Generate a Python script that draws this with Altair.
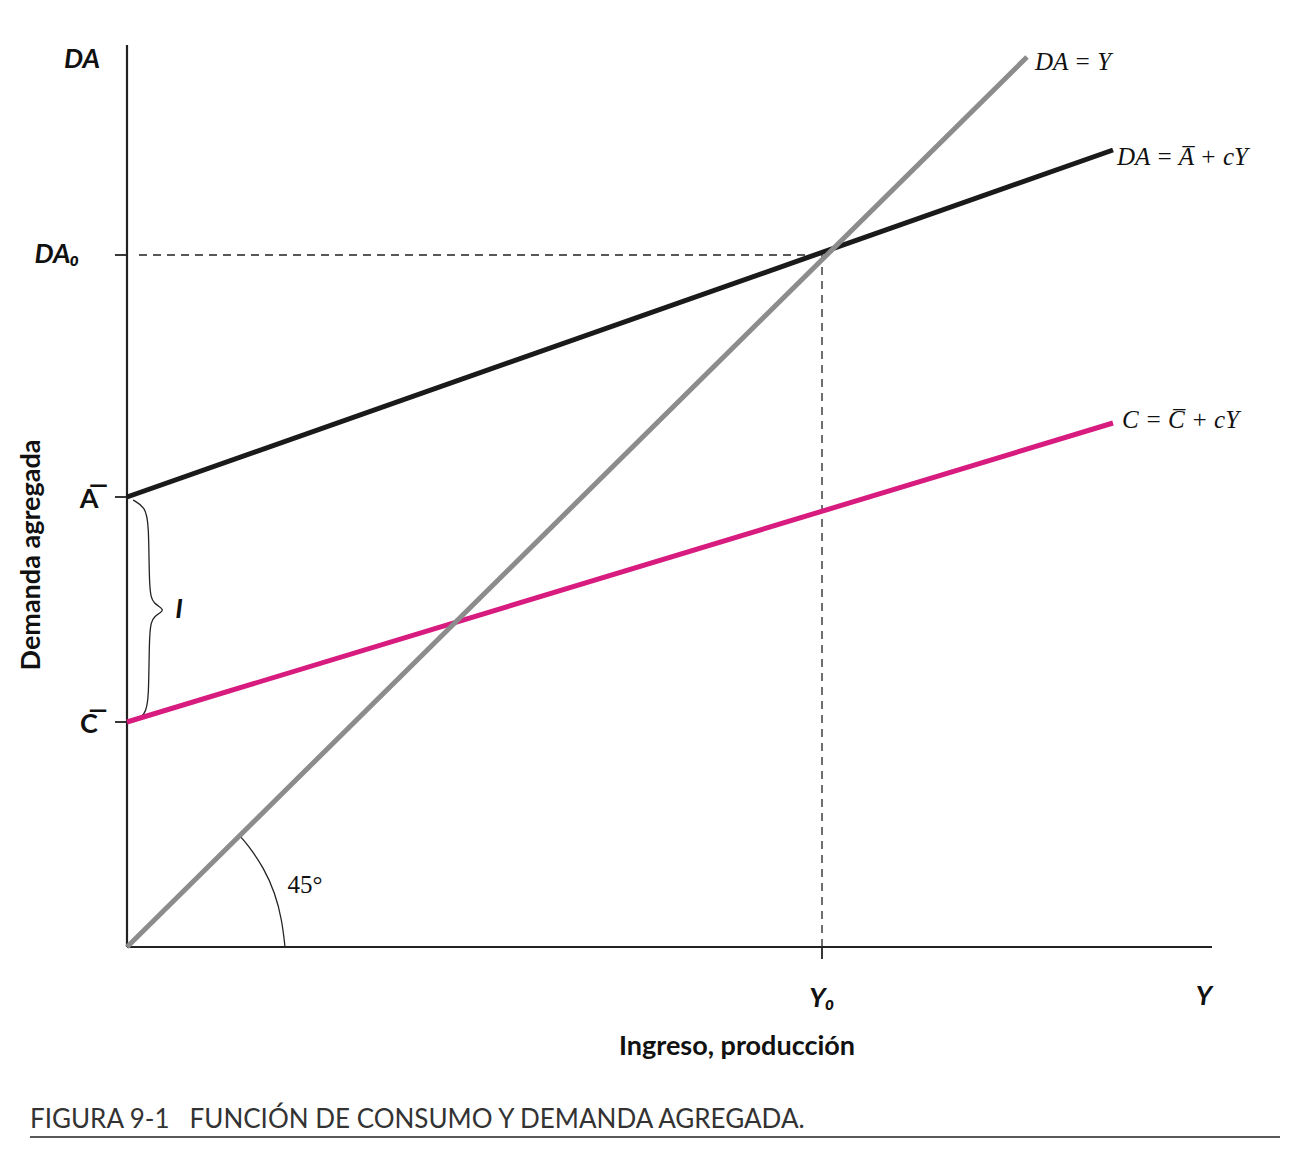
import altair as alt
import pandas as pd

# data units ~ pixels of the original figure, origin at the axes corner
line45_x = [0, 900]
line45_y = [0, 890]
da_x = [0, 986]
da_y = [450, 797]
c_x = [0, 986]
c_y = [225, 524]
y0 = 695
da0 = 692
a_bar = 450
c_bar = 225

brace_x = [6, 18, 22, 22, 26, 40, 26, 22, 22, 18, 6]
brace_y = [447, 440, 425, 355, 343, 337, 331, 319, 245, 232, 225]
arc_x = [158, 155, 148, 137, 121, 112]
arc_y = [0, 27, 54, 79, 102, 112]

x_sc = alt.Scale(domain=[0, 1085], nice=False, zero=False)
y_sc = alt.Scale(domain=[0, 902], nice=False, zero=False)


def xy(x, y):
    d = pd.DataFrame({"x": x, "y": y})
    d["o"] = range(len(d))
    return d


def line(df, color, width, interp="linear"):
    return alt.Chart(df).mark_line(color=color, strokeWidth=width, clip=False,
                                   interpolate=interp).encode(
        x=alt.X("x:Q", scale=x_sc, axis=None),
        y=alt.Y("y:Q", scale=y_sc, axis=None),
        order="o:Q",
    )


def seg(x1, y1, x2, y2, color="#222", width=1.8, dash=None):
    d = pd.DataFrame({"x": [x1], "y": [y1], "x2": [x2], "y2": [y2]})
    kw = dict(color=color, strokeWidth=width, clip=False)
    if dash:
        kw["strokeDash"] = dash
    return alt.Chart(d).mark_rule(**kw).encode(
        x=alt.X("x:Q", scale=x_sc, axis=None), y=alt.Y("y:Q", scale=y_sc, axis=None),
        x2="x2:Q", y2="y2:Q")


def txt(label, x, y, size=27, font="Lato", weight="bold", style="normal",
        align="center", angle=0, color="#111"):
    d = pd.DataFrame({"x": [x], "y": [y], "t": [label]})
    return alt.Chart(d).mark_text(font=font, fontSize=size, fontWeight=weight,
                                  fontStyle=style, align=align, baseline="middle",
                                  angle=angle, color=color).encode(
        x=alt.X("x:Q", scale=x_sc, axis=None), y=alt.Y("y:Q", scale=y_sc, axis=None),
        text="t:N")


serif = "Liberation Serif"
layers = [
    seg(0, 0, 1085, 0, width=2.2),
    seg(0, 0, 0, 902, width=2.2),
    seg(-12, da0, 0, da0), seg(-12, a_bar, 0, a_bar), seg(-12, c_bar, 0, c_bar),
    seg(y0, 0, y0, -12),
    seg(12, da0, y0, da0, width=1.3, dash=[8, 6]),
    seg(y0, 0, y0, da0, width=1.3, dash=[8, 6]),
    line(xy(arc_x, arc_y), "#222", 1.3, interp="basis"),
    line(xy(brace_x, brace_y), "#222", 1.3, interp="basis"),
    line(xy(c_x, c_y), "#d81b7f", 5),
    line(xy(da_x, da_y), "#1a1a1a", 5),
    line(xy(line45_x, line45_y), "#8c8c8c", 5),
    txt("DA", -45, 887, style="italic"),
    txt("DA₀", -70, 692, style="italic"),
    txt("A\u0305", -38, 447),
    txt("C\u0305", -38, 222),
    txt("I", 52, 337, style="italic"),
    txt("Y₀", y0, -52, style="italic"),
    txt("Y", 1077, -50, style="italic"),
    txt("Ingreso, producción", 610, -100),
    txt("Demanda agregada", -95, 392, angle=270),
    txt("45°", 178, 62, font=serif, weight="normal", size=25),
    txt("DA = Y", 908, 885, font=serif, weight="normal", style="italic",
        size=25, align="left"),
    txt("DA = A\u0305 + cY", 990, 790, font=serif, weight="normal",
        style="italic", size=25, align="left"),
    txt("C = C\u0305 + cY", 995, 527, font=serif, weight="normal",
        style="italic", size=25, align="left"),
    txt("FIGURA 9-1\u00a0\u00a0\u00a0FUNCIÓN DE CONSUMO Y DEMANDA AGREGADA.", -97, -173,
        font="Lato", weight="normal", size=26, align="left", color="#333"),
    seg(-97, -190, 1153, -190, width=1.5),
]

chart = alt.layer(*layers).properties(
    width=1085, height=902,
    padding={"left": 119, "top": 37, "right": 80, "bottom": 200},
    autosize=alt.AutoSizeParams(type="none"),
).configure_view(stroke=None)

chart.save("out.html", embed_options={"renderer": "svg", "actions": False})
